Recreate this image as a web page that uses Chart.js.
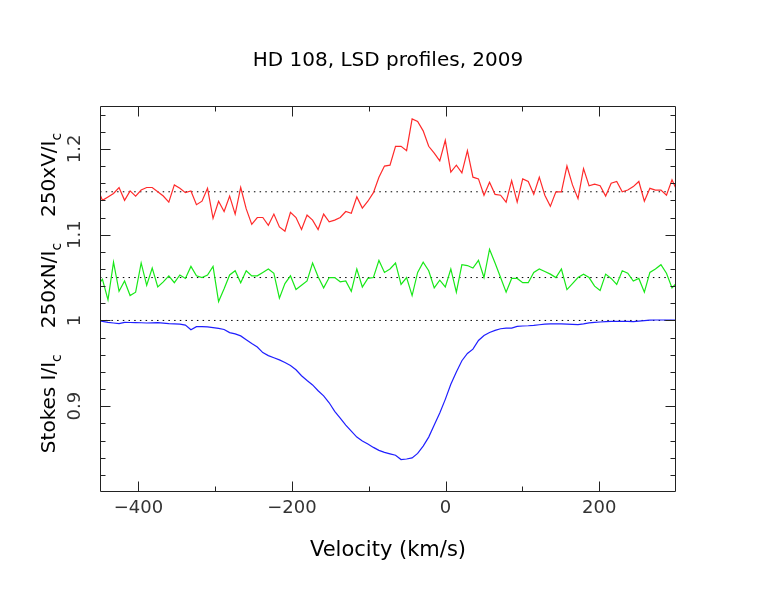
<!DOCTYPE html>
<html><head><meta charset="utf-8">
<script src="https://cdn.jsdelivr.net/npm/chart.js@4"></script>
<style>html,body{margin:0;padding:0;background:#fff}#wrap{width:776px;height:599px}</style>
</head><body><div id="wrap"><canvas id="c" width="776" height="599"></canvas></div>
<script>
// ---------------- data ----------------
const velocity = [-454.0,-446.8,-439.6,-432.4,-425.2,-418.0,-410.8,-403.6,-396.4,-389.2,-382.0,
 -374.8,-367.6,-360.4,-353.2,-346.0,-338.8,-331.6,-324.4,-317.2,-310.0,
 -302.8,-295.6,-288.4,-281.2,-274.0,-266.8,-259.6,-252.4,-245.2,-238.0,
 -230.8,-223.6,-216.4,-209.2,-202.0,-194.8,-187.6,-180.4,-173.2,-166.0,
 -158.8,-151.6,-144.4,-137.2,-130.0,-122.8,-115.6,-108.4,-101.2,-94.0,
 -86.8,-79.6,-72.4,-65.2,-58.0,-50.8,-43.6,-36.4,-29.2,-22.0,
 -14.8,-7.6,-0.4,6.8,14.0,21.2,28.4,35.6,42.8,50.0,
 57.2,64.4,71.6,78.8,86.0,93.2,100.4,107.6,114.8,122.0,
 129.2,136.4,143.6,150.8,158.0,165.2,172.4,179.6,186.8,194.0,
 201.2,208.4,215.6,222.8,230.0,237.2,244.4,251.6,258.8,266.0,
 273.2,280.4,287.6,294.8,302.0];

const stokesV = [1.156,
 1.140,1.144,1.148,1.155,1.140,1.151,1.145,1.152,1.155,1.155,
 1.150,1.145,1.138,1.158,1.154,1.149,1.151,1.135,1.139,1.154,
 1.119,1.139,1.127,1.145,1.124,1.155,1.130,1.112,1.120,1.120,
 1.111,1.124,1.109,1.104,1.126,1.120,1.106,1.123,1.117,1.106,
 1.124,1.115,1.117,1.120,1.127,1.125,1.144,1.131,1.139,1.149,
 1.167,1.180,1.181,1.203,1.203,1.198,1.235,1.232,1.221,1.203,
 1.195,1.186,1.210,1.173,1.181,1.172,1.198,1.167,1.165,1.146,
 1.161,1.147,1.146,1.138,1.163,1.138,1.165,1.162,1.147,1.167,
 1.146,1.133,1.150,1.150,1.180,1.158,1.142,1.177,1.157,1.159,
 1.157,1.145,1.160,1.162,1.150,1.152,1.156,1.162,1.139,1.154,
 1.152,1.152,1.146,1.164,1.150];

const nullN = [1.040,
 1.048,1.024,1.068,1.034,1.046,1.029,1.033,1.067,1.041,1.061,
 1.039,1.045,1.052,1.044,1.053,1.049,1.063,1.052,1.050,1.053,
 1.063,1.022,1.037,1.053,1.058,1.044,1.058,1.052,1.052,1.056,
 1.060,1.055,1.026,1.043,1.052,1.036,1.041,1.046,1.067,1.051,
 1.038,1.050,1.050,1.045,1.046,1.034,1.060,1.039,1.049,1.050,
 1.070,1.056,1.060,1.067,1.042,1.050,1.029,1.056,1.068,1.058,
 1.038,1.047,1.039,1.060,1.033,1.065,1.064,1.061,1.070,1.050,
 1.083,1.067,1.050,1.033,1.049,1.049,1.044,1.044,1.056,1.060,
 1.057,1.054,1.050,1.060,1.036,1.043,1.050,1.054,1.050,1.040,
 1.035,1.054,1.049,1.042,1.058,1.055,1.046,1.049,1.033,1.056,
 1.060,1.065,1.055,1.038,1.045];

const stokesI = [1.0000,
 0.9990,0.9978,0.9970,0.9963,0.9978,0.9976,0.9974,0.9973,0.9970,0.9972,
 0.9974,0.9968,0.9962,0.9960,0.9957,0.9946,0.9892,0.9927,0.9928,0.9925,
 0.9917,0.9907,0.9895,0.9858,0.9843,0.9820,0.9775,0.9730,0.9690,0.9625,
 0.9590,0.9565,0.9540,0.9510,0.9475,0.9425,0.9355,0.9300,0.9248,0.9180,
 0.9120,0.9040,0.8940,0.8860,0.8780,0.8710,0.8640,0.8595,0.8560,0.8520,
 0.8485,0.8462,0.8445,0.8428,0.8378,0.8385,0.8398,0.8450,0.8535,0.8640,
 0.8780,0.8920,0.9080,0.9255,0.9400,0.9530,0.9615,0.9665,0.9767,0.9825,
 0.9860,0.9884,0.9903,0.9911,0.9911,0.9930,0.9935,0.9938,0.9943,0.9950,
 0.9956,0.9961,0.9961,0.9959,0.9957,0.9954,0.9951,0.9960,0.9972,0.9978,
 0.9982,0.9986,0.9989,0.9990,0.9989,0.9988,0.9987,0.9993,0.9999,1.0004,
 1.0005,1.0005,1.0005,1.0005,1.0005];

const refLevels = [1.15, 1.05, 1.0];
const xRange = [-450, 300];
const yRange = [0.8, 1.25];
const xTickValues = [-400, -200, 0, 200];
const xTickLabels = ['\u2212400', '\u2212200', '0', '200'];
const xMinorValues = [-300, -100, 100];
const yTickValues = [0.9, 1.0, 1.1, 1.2];
const yTickLabels = ['0.9', '1', '1.1', '1.2'];
const yMinorValues = [0.82,0.84,0.86,0.88,0.92,0.94,0.96,0.98,1.02,1.04,1.06,1.08,1.12,1.14,1.16,1.18,1.22,1.24];
const titleText = 'HD 108, LSD profiles, 2009';
const xTitleText = 'Velocity (km/s)';
const yTitleParts = [['Stokes I/I', 'c'], ['250xN/I', 'c'], ['250xV/I', 'c']];

// ---------------- chart ----------------
const FONT = 'DejaVu Sans';
const pts = arr => velocity.map((v, i) => ({x: v, y: arr[i]}));

const series = [
  {label: 'V', data: pts(stokesV), borderColor: '#ff2a2a'},
  {label: 'N', data: pts(nullN), borderColor: '#18e818'},
  {label: 'I', data: pts(stokesI), borderColor: '#1f1fff'}
].map(d => Object.assign(d, {borderWidth: 1.2, pointRadius: 0, tension: 0, fill: false, order: 1, yAxisID: 'y'}));

const refSets = refLevels.map(l => ({
  label: 'ref' + l,
  data: [{x: xRange[0], y: l}, {x: xRange[1], y: l}],
  borderColor: '#000', borderWidth: 1, borderDash: [1.5, 4.2],
  pointRadius: 0, fill: false, order: 2, yAxisID: 'y'
}));

const framePlugin = {
  id: 'frame',
  afterDraw(chart) {
    const {ctx, chartArea: a, scales: {x, y}} = chart;
    ctx.save();
    ctx.strokeStyle = '#222';
    ctx.lineWidth = 1;
    ctx.beginPath();
    const L = Math.round(a.left) + 0.5, R = Math.round(a.right) - 0.5;
    const T = Math.round(a.top) + 0.5, B = Math.round(a.bottom) - 0.5;
    ctx.rect(L, T, R - L, B - T);
    const xt = (vals, len) => vals.forEach(v => {
      const p = Math.round(x.getPixelForValue(v)) + 0.5;
      ctx.moveTo(p, B); ctx.lineTo(p, B - len);
      ctx.moveTo(p, T); ctx.lineTo(p, T + len);
    });
    const yt = (vals, len) => vals.forEach(v => {
      const p = Math.round(y.getPixelForValue(v)) + 0.5;
      ctx.moveTo(L, p); ctx.lineTo(L + len, p);
      ctx.moveTo(R, p); ctx.lineTo(R - len, p);
    });
    xt(xTickValues, 10); xt(xMinorValues, 5);
    yt(yTickValues, 10); yt(yMinorValues, 5);
    ctx.stroke();

    // y-axis title with subscripts
    const main = '20px "' + FONT + '"', sub = '14px "' + FONT + '"';
    const gap = 26;
    let total = 0;
    yTitleParts.forEach((p, i) => {
      ctx.font = main; total += ctx.measureText(p[0]).width;
      ctx.font = sub; total += ctx.measureText(p[1]).width;
      if (i < yTitleParts.length - 1) total += gap;
    });
    const cy = (a.top + a.bottom) / 2 - 6;
    ctx.translate(55, cy);
    ctx.rotate(-Math.PI / 2);
    ctx.fillStyle = '#000';
    ctx.textBaseline = 'alphabetic';
    ctx.textAlign = 'left';
    let pos = -total / 2;
    yTitleParts.forEach((p, i) => {
      ctx.font = main; ctx.fillText(p[0], pos, 0); pos += ctx.measureText(p[0]).width;
      ctx.font = sub; ctx.fillText(p[1], pos, 6); pos += ctx.measureText(p[1]).width;
      pos += gap;
    });
    ctx.restore();
  }
};

new Chart(document.getElementById('c'), {
  type: 'line',
  data: {datasets: series.concat(refSets)},
  options: {
    responsive: false, animation: false, devicePixelRatio: 1,
    layout: {padding: {left: 0, right: 0, top: 0, bottom: 0}},
    plugins: {
      legend: {display: false}, tooltip: {enabled: false},
      title: {display: true, text: titleText, color: '#000',
        font: {family: FONT, size: 20, weight: 'normal', lineHeight: 1.2},
        padding: {top: 49, bottom: 33}}
    },
    scales: {
      x: {
        type: 'linear', position: 'bottom', min: xRange[0], max: xRange[1],
        afterBuildTicks: s => { s.ticks = xTickValues.map(v => ({value: v})); },
        afterFit: s => { s.height = 107; },
        grid: {display: false, drawTicks: false}, border: {display: false},
        ticks: {callback: (v, i) => xTickLabels[i], color: '#333', padding: 6,
          maxRotation: 0, minRotation: 0, autoSkip: false,
          font: {family: FONT, size: 18, lineHeight: 1.2}},
        title: {display: true, text: xTitleText, color: '#000',
          font: {family: FONT, size: 21, lineHeight: 1.2}, padding: {top: 0, bottom: 36}}
      },
      y: {
        type: 'linear', position: 'left', min: yRange[0], max: yRange[1],
        afterBuildTicks: s => { s.ticks = yTickValues.map(v => ({value: v})); },
        afterFit: s => { s.width = 100; },
        grid: {display: false, drawTicks: false}, border: {display: false},
        ticks: {callback: (v, i) => yTickLabels[i], color: '#333', padding: 10,
          minRotation: 90, maxRotation: 90, crossAlign: 'center', autoSkip: false,
          font: {family: FONT, size: 18, lineHeight: 1.2}}
      },
      yRight: {
        type: 'linear', position: 'right', display: true, min: yRange[0], max: yRange[1],
        afterFit: s => { s.width = 100; },
        grid: {display: false, drawTicks: false}, border: {display: false},
        ticks: {display: false}
      }
    }
  },
  plugins: [framePlugin]
});
</script>
</body></html>
